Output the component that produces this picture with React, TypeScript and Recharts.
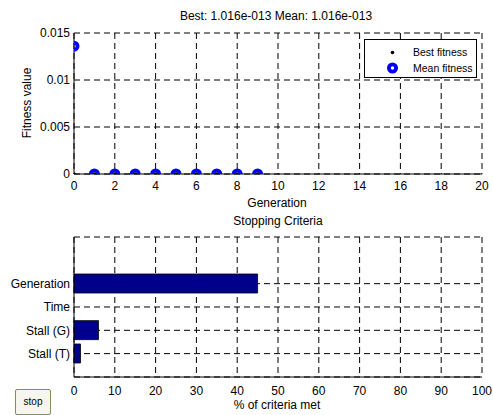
import React from 'react';
import {
  ScatterChart, Scatter, XAxis, YAxis, CartesianGrid,
  BarChart, Bar,
} from 'recharts';

const FONT = '"Liberation Sans", Arial, sans-serif';

// Top panel data
const generations = [0, 1, 2, 3, 4, 5, 6, 7, 8, 9];
const bestFitness = [1.016e-13, 1.016e-13, 1.016e-13, 1.016e-13, 1.016e-13, 1.016e-13, 1.016e-13, 1.016e-13, 1.016e-13, 1.016e-13];
const meanFitness = [0.0136, 1.2e-5, 1.0e-6, 1.0e-7, 1.0e-8, 1.0e-9, 1.0e-10, 1.0e-11, 1.0e-12, 1.016e-13];
const genTicks = [0, 2, 4, 6, 8, 10, 12, 14, 16, 18, 20];
const fitTicks = [0, 0.005, 0.01, 0.015];

// Bottom panel data
const criteria = ['Generation', 'Time', 'Stall (G)', 'Stall (T)'];
const criteriaMet = [45, 0, 6, 1.6];
const pctTicks = [0, 10, 20, 30, 40, 50, 60, 70, 80, 90, 100];

const bestData = generations.map((g, i) => ({ x: g, y: bestFitness[i] }));
const meanData = generations.map((g, i) => ({ x: g, y: meanFitness[i] }));
const barData = criteria.map((c, i) => ({ name: c, value: criteriaMet[i] }));

const tickStyle = { fill: '#000', fontSize: 12, fontFamily: FONT };

const BestDot = (p: any) => <circle cx={p.cx} cy={p.cy} r={1.8} fill="#000" />;
const MeanRing = (p: any) => (
  <circle cx={p.cx} cy={p.cy} r={3.6} fill="none" stroke="#0000ff" strokeWidth={3.8} />
);

const textDiv = (text: string, cx: number, cy: number, size = 12, extra: any = {}) => (
  <div
    style={{
      position: 'absolute', left: cx - 150, top: cy - 8, width: 300, height: 16,
      lineHeight: '16px', textAlign: 'center', fontSize: size, fontFamily: FONT,
      color: '#000', whiteSpace: 'nowrap', ...extra,
    }}
  >
    {text}
  </div>
);

export default function App() {
  return (
    <div style={{ position: 'absolute', left: 0, top: 0, width: 493, height: 415, background: '#fff', overflow: 'hidden' }}>
      <div style={{ position: 'absolute', left: 0, top: 0 }}>
        <ScatterChart width={493} height={200} margin={{ top: 33, right: 11, left: 0, bottom: 0 }}>
          <CartesianGrid stroke="#000" strokeDasharray="6 4" />
          <XAxis
            type="number" dataKey="x" domain={[0, 20]} ticks={genTicks} height={26}
            tickLine={false} tickSize={0} tickMargin={7} tick={tickStyle}
            axisLine={{ stroke: '#000' }} allowDataOverflow
          />
          <YAxis
            type="number" dataKey="y" domain={[0, 0.015]} ticks={fitTicks} width={74}
            tickLine={false} tickSize={0} tickMargin={4} tick={tickStyle}
            axisLine={{ stroke: '#000' }} tickFormatter={(v: number) => String(v)}
            allowDataOverflow
          />
          <Scatter name="Mean fitness" data={meanData} shape={MeanRing} isAnimationActive={false} />
          <Scatter name="Best fitness" data={bestData} shape={BestDot} isAnimationActive={false} />
        </ScatterChart>
      </div>

      <div style={{ position: 'absolute', left: 0, top: 190 }}>
        <BarChart
          layout="vertical" width={493} height={225} data={barData}
          margin={{ top: 47, right: 11, left: 0, bottom: 0 }}
        >
          <CartesianGrid stroke="#000" strokeDasharray="6 4" />
          <XAxis
            type="number" domain={[0, 100]} ticks={pctTicks} height={38}
            tickLine={false} tickSize={0} tickMargin={9} tick={tickStyle}
            axisLine={{ stroke: '#000' }}
          />
          <XAxis
            xAxisId="top" orientation="top" type="number" domain={[0, 100]} height={0}
            tick={false} tickLine={false} axisLine={{ stroke: '#000' }}
          />
          <YAxis
            type="category" dataKey="name" width={74} padding={{ top: 35, bottom: 11.7 }}
            tickLine={false} tickSize={0} tickMargin={4} tick={tickStyle}
            axisLine={{ stroke: '#000' }}
          />
          <YAxis
            yAxisId="right" orientation="right" type="category" dataKey="name" width={0}
            tick={false} tickLine={false} axisLine={{ stroke: '#000' }}
          />
          <Bar dataKey="value" fill="#00008c" stroke="#000" strokeWidth={0.8} barSize={19} isAnimationActive={false} />
        </BarChart>
      </div>

      {/* Legend */}
      <div
        style={{
          position: 'absolute', left: 364, top: 39, width: 113, height: 39,
          border: '1px solid #000', background: '#fff', fontFamily: FONT, fontSize: 10,
          boxSizing: 'border-box',
        }}
      >
        <svg width={112} height={38} style={{ position: 'absolute', left: 0, top: 0 }}>
          <circle cx={27.5} cy={12.5} r={1.8} fill="#000" />
          <circle cx={27.5} cy={28} r={3.6} fill="none" stroke="#0000ff" strokeWidth={3.8} />
          <text x={48} y={16} fontSize={10.5} fontFamily={FONT} fill="#000">Best fitness</text>
          <text x={48} y={32} fontSize={10.5} fontFamily={FONT} fill="#000">Mean fitness</text>
        </svg>
      </div>

      {textDiv('Best: 1.016e-013 Mean: 1.016e-013', 276, 16, 12)}
      {textDiv('Generation', 277, 203)}
      {textDiv('Stopping Criteria', 278, 221)}
      {textDiv('% of criteria met', 277, 405)}
      <div
        style={{
          position: 'absolute', left: 27 - 60, top: 103 - 8, width: 120, height: 16,
          lineHeight: '16px', textAlign: 'center', fontSize: 12, fontFamily: FONT,
          transform: 'rotate(-90deg)', whiteSpace: 'nowrap', color: '#000',
        }}
      >
        Fitness value
      </div>

      {/* stop button */}
      <div
        style={{
          position: 'absolute', left: 15, top: 389, width: 36, height: 26,
          border: '1px solid #7f8f5f', borderRadius: 2, background: '#f6f6ef',
          boxSizing: 'border-box', fontFamily: FONT, fontSize: 10, lineHeight: '24px',
          textAlign: 'center', color: '#000',
        }}
      >
        stop
      </div>
    </div>
  );
}
